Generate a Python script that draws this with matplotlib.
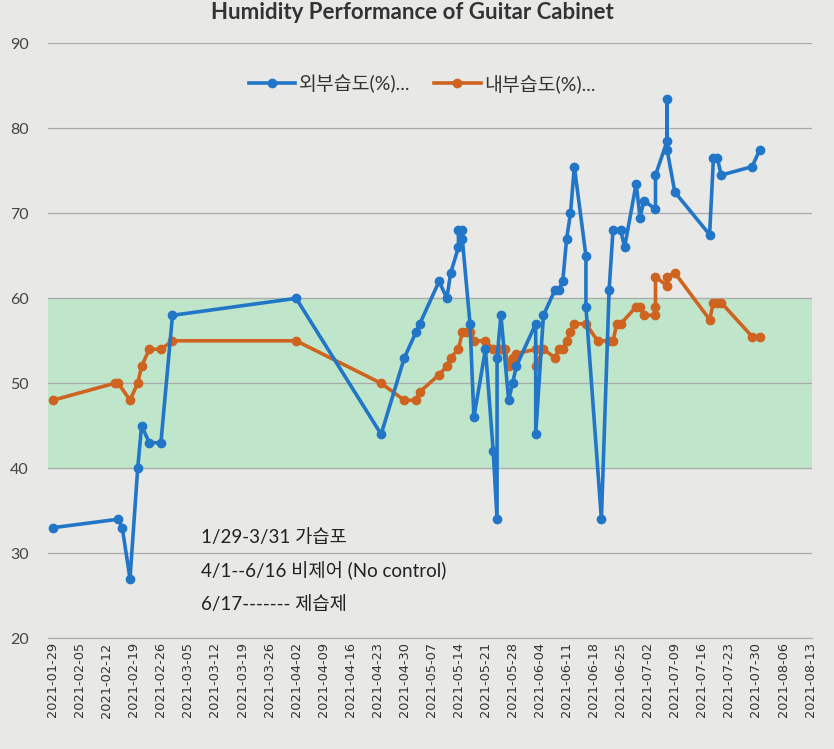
import pandas as pd
import matplotlib
matplotlib.use('Agg')
import matplotlib.pyplot as plt

plt.rcParams['font.family'] = ['Lato', 'Noto Sans CJK KR', 'DejaVu Sans']

# 외부 습도 (파란색)
out_dates = ['2021-01-29', '2021-02-15', '2021-02-16', '2021-02-18', '2021-02-20', '2021-02-21',
             '2021-02-23', '2021-02-26', '2021-03-01', '2021-04-02', '2021-04-24', '2021-04-30',
             '2021-05-03', '2021-05-04', '2021-05-09', '2021-05-11', '2021-05-12', '2021-05-14',
             '2021-05-14', '2021-05-15', '2021-05-15', '2021-05-17', '2021-05-18', '2021-05-21',
             '2021-05-23', '2021-05-24', '2021-05-24', '2021-05-25', '2021-05-27', '2021-05-28',
             '2021-05-29', '2021-06-03', '2021-06-03', '2021-06-05', '2021-06-08', '2021-06-09',
             '2021-06-10', '2021-06-11', '2021-06-12', '2021-06-13', '2021-06-16', '2021-06-16',
             '2021-06-20', '2021-06-22', '2021-06-23', '2021-06-25', '2021-06-26', '2021-06-29',
             '2021-06-30', '2021-07-01', '2021-07-04', '2021-07-04', '2021-07-07', '2021-07-07',
             '2021-07-07', '2021-07-09', '2021-07-18', '2021-07-19', '2021-07-20', '2021-07-21',
             '2021-07-29', '2021-07-31']
out_rh = [33, 34, 33, 27, 40, 45,
          43, 43, 58, 60, 44, 53,
          56, 57, 62, 60, 63, 66,
          68, 68, 67, 57, 46, 54,
          42, 34, 53, 58, 48, 50,
          52, 57, 44, 58, 61, 61,
          62, 67, 70, 75.5, 65, 59,
          34, 61, 68, 68, 66, 73.5,
          69.5, 71.5, 70.5, 74.5, 78.5, 83.5,
          77.5, 72.5, 67.5, 76.5, 76.5, 74.5,
          75.5, 77.5]

# 내부 습도 (주황색)
in_dates = ['2021-01-29', '2021-02-14', '2021-02-15', '2021-02-18', '2021-02-20', '2021-02-21',
            '2021-02-23', '2021-02-26', '2021-03-01', '2021-04-02', '2021-04-24', '2021-04-30',
            '2021-05-03', '2021-05-04', '2021-05-09', '2021-05-11', '2021-05-12', '2021-05-14',
            '2021-05-15', '2021-05-16', '2021-05-17', '2021-05-18', '2021-05-21', '2021-05-23',
            '2021-05-25', '2021-05-26', '2021-05-27', '2021-05-28', '2021-05-29', '2021-06-03',
            '2021-06-03', '2021-06-05', '2021-06-08', '2021-06-09', '2021-06-10', '2021-06-11',
            '2021-06-12', '2021-06-13', '2021-06-16', '2021-06-19', '2021-06-22', '2021-06-23',
            '2021-06-24', '2021-06-25', '2021-06-29', '2021-06-30', '2021-07-01', '2021-07-04',
            '2021-07-04', '2021-07-04', '2021-07-07', '2021-07-07', '2021-07-09', '2021-07-18',
            '2021-07-19', '2021-07-20', '2021-07-21', '2021-07-29', '2021-07-31']
in_rh = [48, 50, 50, 48, 50, 52,
         54, 54, 55, 55, 50, 48,
         48, 49, 51, 52, 53, 54,
         56, 56, 56, 55, 55, 54,
         54, 54, 52, 53, 53.5, 54,
         52, 54, 53, 54, 54, 55,
         56, 57, 57, 55, 55, 55,
         57, 57, 59, 59, 58, 58,
         59, 62.5, 61.5, 62.5, 63, 57.5,
         59.5, 59.5, 59.5, 55.5, 55.5]

legend_labels = ['외부습도(%)...', '내부습도(%)...']
notes = ['1/29-3/31 가습포', '4/1--6/16 비제어 (No control)', '6/17------- 제습제']

bg = '#e8e8e6'
fig = plt.figure(figsize=(8.34, 7.49), dpi=100, facecolor=bg)
ax = fig.add_axes([0.0576, 0.148, 0.916, 0.794])
ax.set_facecolor(bg)

# 적정 습도 구간 40~60%
ax.axhspan(40, 60, color='#bfe5cb', zorder=0)

ax.plot(pd.to_datetime(out_dates), out_rh, color='#2176c7', lw=2.6, marker='o', ms=6,
        label=legend_labels[0], zorder=3)
ax.plot(pd.to_datetime(in_dates), in_rh, color='#cf6420', lw=2.6, marker='o', ms=6,
        label=legend_labels[1], zorder=2)

ticks = pd.date_range('2021-01-29', '2021-08-13', freq='7D')
ax.set_xticks(ticks)
ax.set_xticklabels([t.strftime('%Y-%m-%d') for t in ticks], rotation=90, fontsize=9.3,
                   color='#333333', family='DejaVu Sans')
ax.set_xlim(pd.Timestamp('2021-01-29') - pd.Timedelta(hours=29),
            pd.Timestamp('2021-08-13') + pd.Timedelta(hours=12))

ax.set_ylim(20, 90)
ax.set_yticks(range(20, 91, 10))
ax.tick_params(axis='y', length=0, labelsize=11.5, labelcolor='#444444', pad=14)
ax.tick_params(axis='x', length=0, pad=3)
ax.grid(axis='y', color='#aaaaaa', lw=0.9)
for s in ['top', 'right', 'left']:
    ax.spines[s].set_visible(False)
ax.spines['bottom'].set_color('#aaaaaa')

fig.text(0.495, 0.983, 'Humidity Performance of Guitar Cabinet', ha='center', va='center',
         fontsize=16, fontweight='bold', color='#333333')

leg = ax.legend(loc='center', bbox_to_anchor=(0.49, 0.933), ncol=2, frameon=False,
                fontsize=14, handlelength=2.4, columnspacing=1.2, handletextpad=0.2)
for t in leg.get_texts():
    t.set_color('#333333')

for i, note in enumerate(notes):
    ax.text(0.2, 0.17 - i * 0.057, note, transform=ax.transAxes, fontsize=13.5,
            color='#222222', va='center')

plt.savefig('out.png', dpi=100, facecolor=bg)
